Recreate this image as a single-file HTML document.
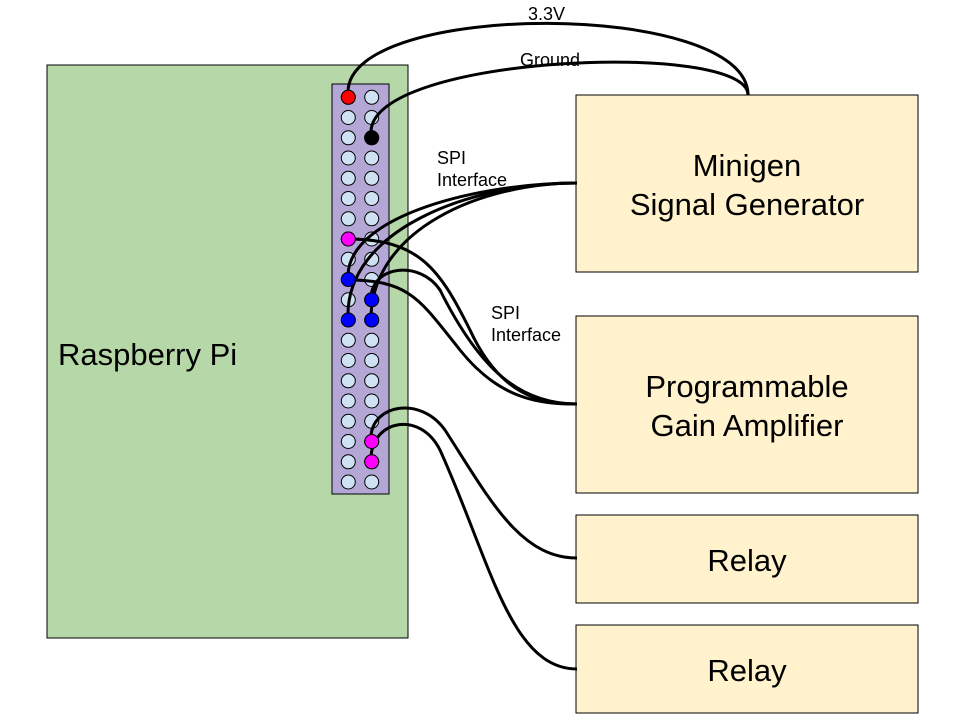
<!DOCTYPE html>
<html><head><meta charset="utf-8"><style>
body{margin:0;background:#fff}
svg{display:block}
text{font-family:"Liberation Sans",sans-serif}
</style></head><body>
<svg width="960" height="720" viewBox="0 0 960 720" xmlns="http://www.w3.org/2000/svg">
<rect x="47" y="65" width="361" height="573" fill="#b6d7a8" stroke="#000" stroke-width="1"/>
<rect x="332" y="84" width="57" height="410" fill="#b4a7d6" stroke="#000" stroke-width="1"/>
<text x="58" y="365" font-size="31">Raspberry Pi</text>
<g fill="#fff2cc" stroke="#000" stroke-width="1">
<rect x="576" y="95" width="342" height="177"/>
<rect x="576" y="316" width="342" height="177"/>
<rect x="576" y="515" width="342" height="88"/>
<rect x="576" y="625" width="342" height="88"/>
</g>
<g font-size="31" text-anchor="middle">
<text x="747" y="176">Minigen</text>
<text x="747" y="215">Signal Generator</text>
<text x="747" y="397">Programmable</text>
<text x="747" y="436">Gain Amplifier</text>
<text x="747" y="571">Relay</text>
<text x="747" y="681">Relay</text>
</g>
<g id="pins" stroke="#000" stroke-width="1" fill="#cfe2f3">
<circle cx="348.3" cy="97.3" r="7"/><circle cx="371.7" cy="97.3" r="7"/>
<circle cx="348.3" cy="117.5" r="7"/><circle cx="371.7" cy="117.5" r="7"/>
<circle cx="348.3" cy="137.8" r="7"/><circle cx="371.7" cy="137.8" r="7"/>
<circle cx="348.3" cy="158" r="7"/><circle cx="371.7" cy="158" r="7"/>
<circle cx="348.3" cy="178.3" r="7"/><circle cx="371.7" cy="178.3" r="7"/>
<circle cx="348.3" cy="198.5" r="7"/><circle cx="371.7" cy="198.5" r="7"/>
<circle cx="348.3" cy="218.8" r="7"/><circle cx="371.7" cy="218.8" r="7"/>
<circle cx="348.3" cy="239" r="7"/><circle cx="371.7" cy="239" r="7"/>
<circle cx="348.3" cy="259.3" r="7"/><circle cx="371.7" cy="259.3" r="7"/>
<circle cx="348.3" cy="279.5" r="7"/><circle cx="371.7" cy="279.5" r="7"/>
<circle cx="348.3" cy="299.8" r="7"/><circle cx="371.7" cy="299.8" r="7"/>
<circle cx="348.3" cy="320" r="7"/><circle cx="371.7" cy="320" r="7"/>
<circle cx="348.3" cy="340.3" r="7"/><circle cx="371.7" cy="340.3" r="7"/>
<circle cx="348.3" cy="360.5" r="7"/><circle cx="371.7" cy="360.5" r="7"/>
<circle cx="348.3" cy="380.8" r="7"/><circle cx="371.7" cy="380.8" r="7"/>
<circle cx="348.3" cy="401" r="7"/><circle cx="371.7" cy="401" r="7"/>
<circle cx="348.3" cy="421.3" r="7"/><circle cx="371.7" cy="421.3" r="7"/>
<circle cx="348.3" cy="441.5" r="7"/><circle cx="371.7" cy="441.5" r="7"/>
<circle cx="348.3" cy="461.8" r="7"/><circle cx="371.7" cy="461.8" r="7"/>
<circle cx="348.3" cy="482" r="7"/><circle cx="371.7" cy="482" r="7"/>
</g>
<g fill="none" stroke="#000" stroke-width="3">
<path d="M348,92 C348,0 748,0 748,95"/>
<path d="M371,132 C371,55 748,40 748,95"/>
<path d="M348,275 C350,215 480,183 577,183"/>
<path d="M348,318 C345,230 470,183 577,183"/>
<path d="M371,318 C372,230 480,183 577,183"/>
<path d="M348,239 C420,239 440,270 470,330 C500,395 540,404 577,404"/>
<path d="M348,280 C410,280 420,300 460,350 C500,400 540,404 577,404"/>
<path d="M371,298 C372,265 420,260 440,290 C480,370 520,404 577,404"/>
<path d="M371,437 C372,405 420,395 445,430 C490,500 520,558 577,558"/>
<path d="M371,458 C372,420 420,410 440,450 C490,560 510,669 577,669"/>
</g>
<g stroke="#000" stroke-width="1">
<circle cx="348.3" cy="97.3" r="7" fill="#f00"/>
<circle cx="371.7" cy="137.8" r="7" fill="#000"/>
<circle cx="348.3" cy="239" r="7" fill="#f0f"/>
<circle cx="348.3" cy="279.5" r="7" fill="#00f"/>
<circle cx="371.7" cy="299.8" r="7" fill="#00f"/>
<circle cx="348.3" cy="320" r="7" fill="#00f"/>
<circle cx="371.7" cy="320" r="7" fill="#00f"/>
<circle cx="371.7" cy="441.5" r="7" fill="#f0f"/>
<circle cx="371.7" cy="461.8" r="7" fill="#f0f"/>
</g>
<g font-size="18">
<text x="528" y="20">3.3V</text>
<text x="520" y="66">Ground</text>
<text x="437" y="164">SPI</text>
<text x="437" y="186">Interface</text>
<text x="491" y="319">SPI</text>
<text x="491" y="341">Interface</text>
</g>
</svg>
</body></html>
